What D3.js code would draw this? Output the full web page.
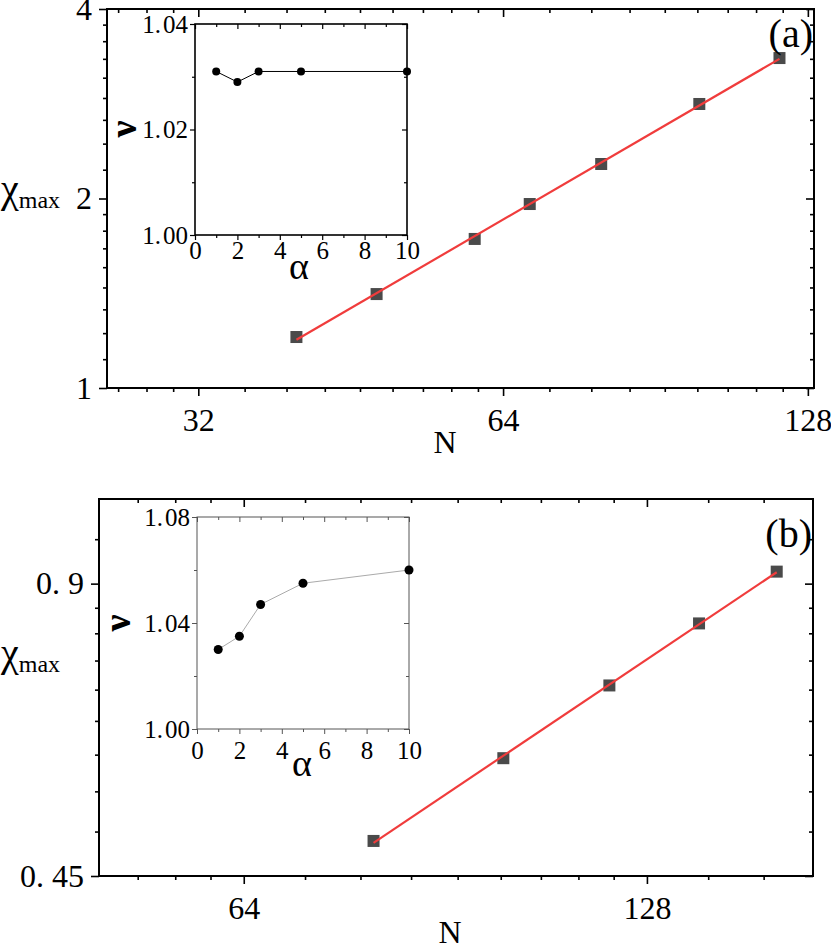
<!DOCTYPE html>
<html><head><meta charset="utf-8">
<script src="https://cdn.jsdelivr.net/npm/d3@7"></script>
<style>body{margin:0;background:#fff} svg{display:block} text{font-family:"Liberation Serif","Times New Roman","DejaVu Serif",serif;fill:#000}</style>
</head><body><svg id="c" width="831" height="943"></svg>
<script>
// ---- data ----
const nA = [40, 48, 60, 68, 80, 100, 120];
const chiA = [1.205, 1.41, 1.725, 1.96, 2.269, 2.826, 3.343];
const nB = [80, 100, 120, 140, 160];
const chiB = [0.489, 0.595, 0.707, 0.819, 0.926];
const alpha = [1, 2, 3, 5, 10];
const nuA = [1.031, 1.029, 1.031, 1.031, 1.031];
const nuB = [1.030, 1.035, 1.047, 1.055, 1.060];
// ---- ticks ----
const xTicksA = [32, 64, 128];
const yTicksA = [1, 2, 4];
const xTicksB = [64, 128];
const yTicksB = [0.45, 0.9];
const insetXTicks = [0, 2, 4, 6, 8, 10];
const insetXMinor = [1, 3, 5, 7, 9];
const insetYTicksA = [1.00, 1.02, 1.04];
const insetYMinorA = [1.01, 1.03];
const insetYTicksB = [1.00, 1.04, 1.08];
const insetYMinorB = [1.02, 1.06];

const svg = d3.select("#c");
const SERIF = '"Liberation Serif","Times New Roman","DejaVu Serif",serif';

function minorLog2(majors, dom) {
  const out = [];
  for (let M = majors[0] / 2; M < dom[1]; M *= 2)
    for (let k = 1; k <= 8; k++) {
      const v = M + k * M / 9;
      if (v > dom[0] && v < dom[1]) out.push(v);
    }
  return out;
}

function gapLabel(sel, gap) {
  sel.each(function () {
    const t = d3.select(this); const s = t.text();
    const i = s.indexOf(".");
    if (i < 0) return;
    t.text(null);
    t.append("tspan").text(s.slice(0, i + 1));
    t.append("tspan").attr("dx", gap).text(s.slice(i + 1));
  });
}

function axes(g, x, y, box, o) {
  const { l, t, r, b } = box;
  const ax = (gen, tx, ty) => {
    const a = g.append("g").attr("transform", `translate(${tx},${ty})`).call(gen);
    a.attr("font-family", SERIF);
    a.select(".domain").remove();
    a.selectAll("line").attr("stroke", o.tickColor).attr("stroke-width", o.tickW);
    return a;
  };
  const bx = ax(d3.axisBottom(x).tickValues(o.xt).tickSize(o.maj).tickSizeOuter(0).tickFormat(o.xf).tickPadding(o.xpad), 0, b);
  ax(d3.axisBottom(x).tickValues(o.xm).tickSize(o.min).tickSizeOuter(0).tickFormat(""), 0, b);
  ax(d3.axisBottom(x).tickValues(o.xt).tickSize(o.maj).tickSizeOuter(0).tickFormat(""), 0, t);
  ax(d3.axisBottom(x).tickValues(o.xm).tickSize(o.min).tickSizeOuter(0).tickFormat(""), 0, t);
  const ly = ax(d3.axisLeft(y).tickValues(o.yt).tickSize(o.maj).tickSizeOuter(0).tickFormat(o.yf).tickPadding(o.ypad), l, 0);
  ax(d3.axisLeft(y).tickValues(o.ym).tickSize(o.min).tickSizeOuter(0).tickFormat(""), l, 0);
  ax(d3.axisLeft(y).tickValues(o.yt).tickSize(o.maj).tickSizeOuter(0).tickFormat(""), r, 0);
  ax(d3.axisLeft(y).tickValues(o.ym).tickSize(o.min).tickSizeOuter(0).tickFormat(""), r, 0);
  [bx, ly].forEach(a => a.selectAll("text").attr("font-size", o.fs).attr("fill", "#000"));
  bx.selectAll("text").attr("dy", o.xdy);
  gapLabel(ly.selectAll("text"), o.gap);
  g.append("rect").attr("x", l).attr("y", t).attr("width", r - l).attr("height", b - t)
    .attr("fill", "none").attr("stroke", o.frameColor).attr("stroke-width", o.frameW);
}

function mainPanel(cfg) {
  const g = svg.append("g");
  const { l, t, r, b } = cfg.box;
  const x = d3.scaleLog().base(2).domain(cfg.xd).range([l, r]);
  const y = d3.scaleLog().base(2).domain(cfg.yd).range([b, t]);
  axes(g, x, y, cfg.box, {
    xt: cfg.xt, xm: minorLog2(cfg.xt, cfg.xd), yt: cfg.yt, ym: minorLog2(cfg.yt, cfg.yd),
    maj: 8, min: 4, fs: 32, xpad: 12, ypad: 7, xdy: "0.71em", gap: 8,
    xf: d3.format("d"), yf: cfg.yf, tickColor: "#000", tickW: 1.6, frameColor: "#000", frameW: 2
  });
  const lx = cfg.n.map(Math.log), lyv = cfg.v.map(Math.log);
  const mx = d3.mean(lx), my = d3.mean(lyv);
  const slope = d3.sum(lx.map((v, i) => (v - mx) * (lyv[i] - my))) / d3.sum(lx.map(v => (v - mx) ** 2));
  const fit = n => Math.exp(my + slope * (Math.log(n) - mx));
  const ends = [cfg.n[0], cfg.n[cfg.n.length - 1]];
  g.selectAll("rect.pt").data(cfg.n).join("rect").attr("class", "pt")
    .attr("x", (d) => x(d) - 6).attr("y", (d, i) => y(cfg.v[i]) - 6)
    .attr("width", 12).attr("height", 12).attr("fill", "#4a4a4a");
  g.append("path").datum(ends).attr("fill", "none").attr("stroke", "#f03c3c").attr("stroke-width", 2.2)
    .attr("d", d3.line().x(d => x(d)).y(d => y(fit(d))));
  const lab = g.append("text").attr("x", cfg.chi[0]).attr("y", cfg.chi[1]).attr("font-size", 40).text("χ");
  lab.append("tspan").attr("font-size", 24).attr("dy", 6).attr("dx", 0).text("max");
  g.append("text").attr("x", cfg.nl[0]).attr("y", cfg.nl[1]).attr("font-size", 32).attr("text-anchor", "middle").text("N");
  g.append("text").attr("x", r - 1).attr("y", cfg.tag[1]).attr("font-size", 40).attr("text-anchor", "end").text(cfg.tagText);
  return g;
}

function inset(cfg) {
  const g = svg.append("g");
  const { l, t, r, b } = cfg.box;
  g.append("rect").attr("x", l).attr("y", t).attr("width", r - l).attr("height", b - t).attr("fill", "#fff");
  const x = d3.scaleLinear().domain([0, 10]).range([l, r]);
  const y = d3.scaleLinear().domain(cfg.yd).range([b, t]);
  axes(g, x, y, cfg.box, {
    xt: insetXTicks, xm: insetXMinor, yt: cfg.yt, ym: cfg.ym,
    maj: 5, min: 3, fs: 25, xpad: cfg.xpad, ypad: 2, xdy: "0.71em", gap: 2,
    xf: d3.format("d"), yf: d3.format(".2f"), tickColor: cfg.frameColor, tickW: cfg.tickW,
    frameColor: cfg.frameColor, frameW: cfg.frameW
  });
  g.append("path").datum(alpha).attr("fill", "none").attr("stroke", cfg.lineColor).attr("stroke-width", 1)
    .attr("d", d3.line().x(d => x(d)).y((d, i) => y(cfg.v[i])));
  g.selectAll("circle").data(alpha).join("circle")
    .attr("cx", d => x(d)).attr("cy", (d, i) => y(cfg.v[i])).attr("r", cfg.rad).attr("fill", "#000");
  g.append("text").attr("transform", `translate(${cfg.nu[0]},${cfg.nu[1]}) rotate(-90)`)
    .attr("text-anchor", "middle").attr("font-size", 38).attr("font-weight", "bold").text("ν");
  g.append("text").attr("x", cfg.al[0]).attr("y", cfg.al[1]).attr("text-anchor", "middle").attr("font-size", 38).text("α");
}

mainPanel({
  box: { l: 107, t: 9, r: 814, b: 388 }, xd: [26, 129.8], yd: [1, 4], xt: xTicksA, yt: yTicksA,
  yf: d3.format("d"), n: nA, v: chiA, chi: [1, 202], nl: [445, 453], tag: [0, 47], tagText: "(a)"
});
inset({
  box: { l: 195, t: 24, r: 407, b: 235 }, yd: [1.00, 1.04], yt: insetYTicksA, ym: insetYMinorA,
  v: nuA, xpad: 1, frameColor: "#000", frameW: 1.6, tickW: 1.2, lineColor: "#000", rad: 4,
  nu: [136, 129], al: [299, 279]
});
mainPanel({
  box: { l: 99, t: 499, r: 813, b: 876 }, xd: [49.9, 170.3], yd: [0.45, 1.1], xt: xTicksB, yt: yTicksB,
  yf: d3.format(""), n: nB, v: chiB, chi: [1, 666], nl: [450, 943], tag: [0, 547], tagText: "(b)"
});
inset({
  box: { l: 197, t: 517, r: 409, b: 729 }, yd: [1.00, 1.08], yt: insetYTicksB, ym: insetYMinorB,
  v: nuB, xpad: 7, frameColor: "#555", frameW: 1, tickW: 1, lineColor: "#aaa", rad: 4.5,
  nu: [130, 623], al: [302, 776]
});
</script></body></html>
